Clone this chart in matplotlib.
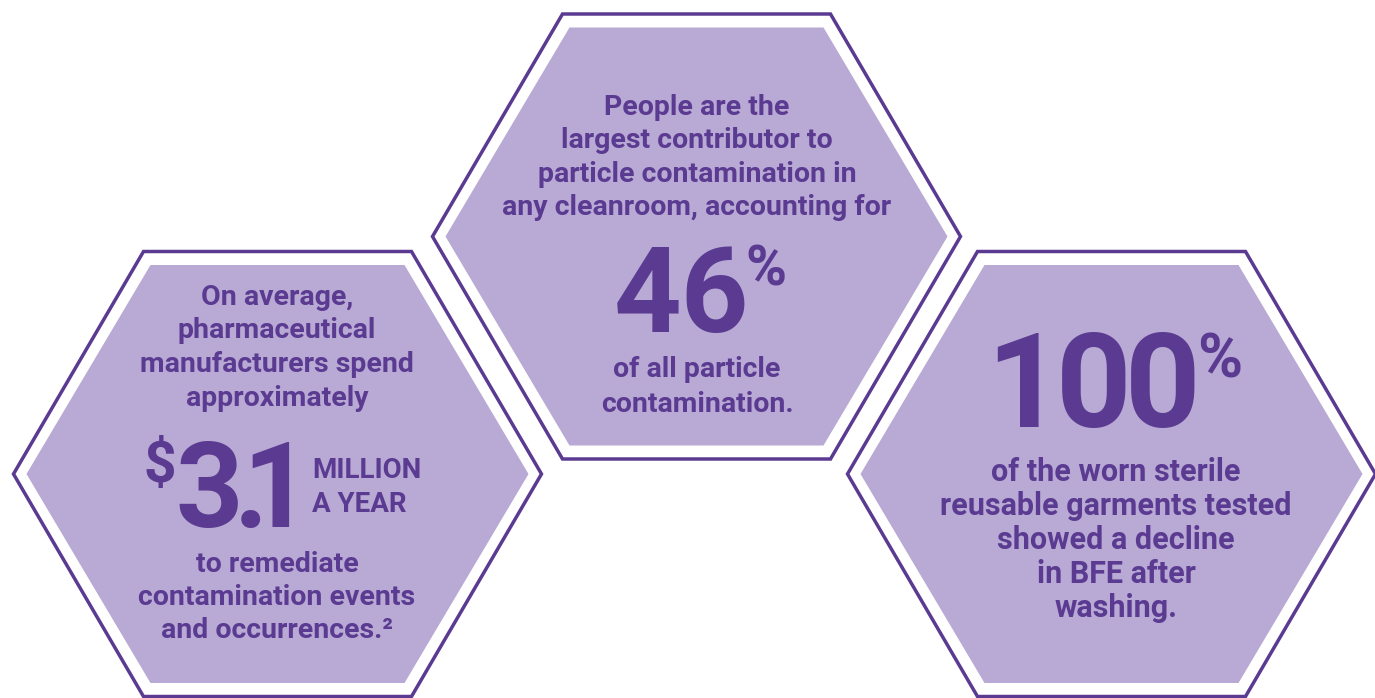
import matplotlib
matplotlib.use("Agg")
import matplotlib.pyplot as plt
from matplotlib.patches import Polygon

# ---- content ----
left_lines_top = ["On average,", "pharmaceutical", "manufacturers spend", "approximately"]
left_prefix = "$"
left_value = "3.1"
left_unit = ["MILLION", "A YEAR"]
left_lines_bottom = ["to remediate", "contamination events", "and occurrences.\u00b2"]

mid_lines_top = ["People are the", "largest contributor to", "particle contamination in",
                 "any cleanroom, accounting for"]
mid_value = "46"
mid_suffix = "%"
mid_lines_bottom = ["of all particle", "contamination."]

right_value = "100"
right_suffix = "%"
right_lines_bottom = ["of the worn sterile", "reusable garments tested", "showed a decline",
                      "in BFE after", "washing."]

# ---- style ----
FILL = "#b8aad4"
DARK = "#5b3a91"
FONT = ["Roboto", "DejaVu Sans"]
W, H = 1375, 698

fig = plt.figure(figsize=(W / 100, H / 100), dpi=100)
ax = fig.add_axes([0, 0, 1, 1])
ax.set_xlim(0, W)
ax.set_ylim(H, 0)
ax.axis("off")
fig.patch.set_facecolor("white")


def hexagon(cx, cy, hw, th, hh):
    return [(cx - th, cy - hh), (cx + th, cy - hh), (cx + hw, cy),
            (cx + th, cy + hh), (cx - th, cy + hh), (cx - hw, cy)]


def draw_hex(cx, cy):
    hw, th, hh = 264, 134, 222.5
    ax.add_patch(Polygon(hexagon(cx, cy, hw, th, hh), closed=True, facecolor="white",
                         edgecolor=DARK, linewidth=2.5, joinstyle="miter", zorder=1))
    ax.add_patch(Polygon(hexagon(cx, cy, hw - 13, th - 7, hh - 13.5), closed=True,
                         facecolor=FILL, edgecolor="none", zorder=2))


def body(x, y, s, size=20.5, ha="center"):
    ax.text(x, y, s, ha=ha, va="baseline", fontsize=size, color=DARK,
            family=FONT, fontweight="bold", zorder=3)


def big(x, y, s, size, ha="center"):
    ax.text(x, y, s, ha=ha, va="baseline", fontsize=size, color=DARK,
            family=FONT, fontweight="bold", zorder=3)


centers = [(277.5, 474), (696.5, 236.5), (1111.5, 474)]
for cx, cy in centers:
    draw_hex(cx, cy)

# left hexagon
lx = 277
for i, s in enumerate(left_lines_top):
    body(lx, 305 + i * 33.5, s)
big(160, 482, left_prefix, 41)
# condensed setting of the big value: each glyph placed on its own
for ch, x in zip(left_value, [209, 251, 276]):
    big(x, 527, ch, 85)
body(312, 478, left_unit[0], size=20, ha="left")
body(312, 512, left_unit[1], size=20, ha="left")
for i, s in enumerate(left_lines_bottom):
    body(lx, 572 + i * 33, s)

# middle hexagon
mx = 697
for i, s in enumerate(mid_lines_top):
    body(mx, 115 + i * 33.3, s)
big(682, 332, mid_value, 85)
big(745, 285, mid_suffix, 40, ha="left")
for i, s in enumerate(mid_lines_bottom):
    body(mx, 377 + i * 35, s)

# right hexagon
rx = 1116
for ch, x in zip(right_value, [1024, 1094, 1163]):
    big(x, 427, ch, 95)
big(1197, 377, right_suffix, 44, ha="left")
for i, s in enumerate(right_lines_bottom):
    body(rx, 481 + i * 34, s, size=22)

fig.savefig("out.png", dpi=100, facecolor="white")
